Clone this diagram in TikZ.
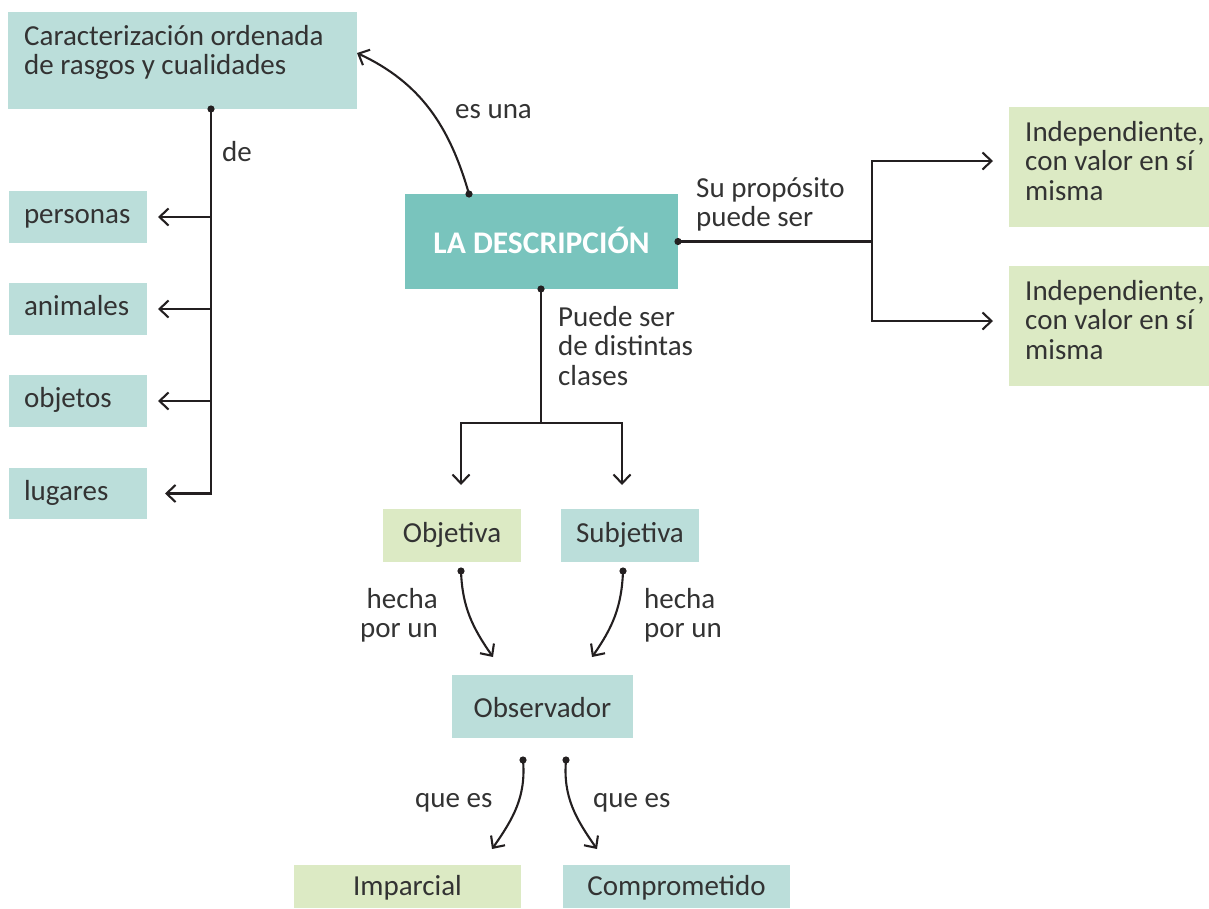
\documentclass[tikz,border=0pt]{standalone}
\usepackage{fontspec}
\setmainfont{Carlito}
\usetikzlibrary{arrows.meta,calc}
\definecolor{lteal}{RGB}{187,222,218}
\definecolor{dteal}{RGB}{121,196,189}
\definecolor{lgreen}{RGB}{220,234,196}
\definecolor{txt}{RGB}{51,51,51}
\definecolor{ln}{RGB}{35,31,32}
\newcommand{\fs}{\fontsize{29}{29.5}\selectfont}
\newcommand{\fb}{\fontsize{31.5}{32}\selectfont\bfseries}
\begin{document}
\begin{tikzpicture}[x=1pt,y=1pt,
  box/.style={rectangle,inner sep=0pt,outer sep=0pt,anchor=north west,text=txt,font=\fs,text height=20pt,text depth=6.5pt},
  lt/.style={box,fill=lteal},
  gr/.style={box,fill=lgreen},
  lftbox/.style={lt,minimum width=138,text width=108,align=left,inner xsep=15pt},
  lbl/.style={inner sep=0pt,text=txt,font=\fs,anchor=base west},
  con/.style={draw=ln,line width=2.1pt},
  arr/.style={con,-{Straight Barb[length=9pt,width=17pt]}}
]
\useasboundingbox (0,0) rectangle (1209,-908);

% boxes
\node[lt,minimum width=349,minimum height=97] (car) at (8,-12) {};
\node[lbl] (cart) at (24,-45) {\parbox[t]{330pt}{\raggedright Caracterización ordenada\\de rasgos y cualidades}};
\node[lftbox,minimum height=52] (per) at (9,-191) {personas};
\node[lftbox,minimum height=52] (ani) at (9,-283) {animales};
\node[lftbox,minimum height=52] (obt) at (9,-375) {objetos};
\node[lftbox,minimum height=51] (lug) at (9,-468) {lugares};
\node[box,fill=dteal,minimum width=273,minimum height=95,text=white,font=\fb,text height=23pt,text depth=0pt] (desc) at (405,-194) {LA DESCRIPCIÓN};
\node[gr,minimum width=200,minimum height=120] (ind1) at (1009,-107) {};
\node[lbl] (ind1t) at (1025,-141) {\parbox[t]{180pt}{\raggedright Independiente,\\con valor en sí\\misma}};
\node[gr,minimum width=200,minimum height=120] (ind2) at (1009,-266) {};
\node[lbl] (ind2t) at (1025,-300) {\parbox[t]{180pt}{\raggedright Independiente,\\con valor en sí\\misma}};
\node[gr,minimum width=138,minimum height=53] (obj) at (383,-509) {Objetiva};
\node[lt,minimum width=138,minimum height=53] (sub) at (561,-509) {Subjetiva};
\node[lt,minimum width=181,minimum height=63,text height=29pt,text depth=6.5pt] (obs) at (452,-675) {Observador};
\node[gr,minimum width=227,minimum height=43,text height=25pt] (imp) at (294,-865) {Imparcial};
\node[lt,minimum width=227,minimum height=43,text height=25pt] (com) at (563,-865) {Comprometido};

% left tree
\coordinate (c0) at ($(car.south west)+(203,0)$);
\fill[ln] (c0) circle (3.6);
\draw[arr] (c0) |- ([xshift=18]lug.east);
\draw[arr] (c0 |- per.east) -- ([xshift=11]per.east);
\draw[arr] (c0 |- ani.east) -- ([xshift=11]ani.east);
\draw[arr] (c0 |- obt.east) -- ([xshift=11]obt.east);
\node[lbl] (lde) at (222,-161) {de};

% es una
\coordinate (d1) at ($(desc.north west)+(64,0)$);
\fill[ln] (d1) circle (3.6);
\draw[arr] (d1) to[out=106,in=-25] ($(car.north east)+(0,-41)$);
\node[lbl] (lesuna) at (455,-118) {es una};

% right
\coordinate (d2) at (desc.east);
\coordinate (j2) at ($(desc.east)+(194,0)$);
\fill[ln] (d2) circle (3.6);
\draw[con] (d2) -- (j2);
\draw[arr] (j2) |- ($(ind1.north west)+(-16,-54)$);
\draw[arr] (j2) |- ($(ind2.north west)+(-16,-55)$);
\node[lbl] (lsu) at (696,-197) {\parbox[t]{200pt}{\raggedright Su propósito\\puede ser}};

% bottom
\coordinate (d3) at ($(desc.south west)+(136,0)$);
\coordinate (j3) at ($(d3)+(0,-134)$);
\fill[ln] (d3) circle (3.6);
\draw[con] (d3) -- (j3);
\draw[arr] (j3) -| ($(obj.north west)+(78,24)$);
\draw[arr] (j3) -| ($(sub.north west)+(61,24)$);
\node[lbl] (lpu) at (558,-326) {\parbox[t]{200pt}{\raggedright Puede ser\\de distintas\\clases}};

% hecha por un
\coordinate (d4) at ($(obj.south west)+(78,-9)$);
\coordinate (d5) at ($(sub.south west)+(62,-9)$);
\fill[ln] (d4) circle (3.6);
\fill[ln] (d5) circle (3.6);
\draw[arr] (d4) to[out=-88,in=125] ($(obs.north west)+(41,18)$);
\draw[arr] (d5) to[out=-92,in=55] ($(obs.north west)+(140,18)$);
\node[lbl,anchor=base east] (lh1) at (438,-608) {\parbox[t]{120pt}{\raggedleft hecha\\por un}};
\node[lbl] (lh2) at (644,-608) {\parbox[t]{120pt}{\raggedright hecha\\por un}};

% que es
\coordinate (d6) at ($(obs.south west)+(71,-22)$);
\coordinate (d7) at ($(obs.south west)+(114,-22)$);
\fill[ln] (d6) circle (3.6);
\fill[ln] (d7) circle (3.6);
\draw[arr] (d6) to[out=-85,in=55] ($(imp.north west)+(198,16)$);
\draw[arr] (d7) to[out=-95,in=125] ($(com.north west)+(34,16)$);
\node[lbl] (lq1) at (415,-807) {que es};
\node[lbl] (lq2) at (593,-807) {que es};
\end{tikzpicture}
\end{document}
